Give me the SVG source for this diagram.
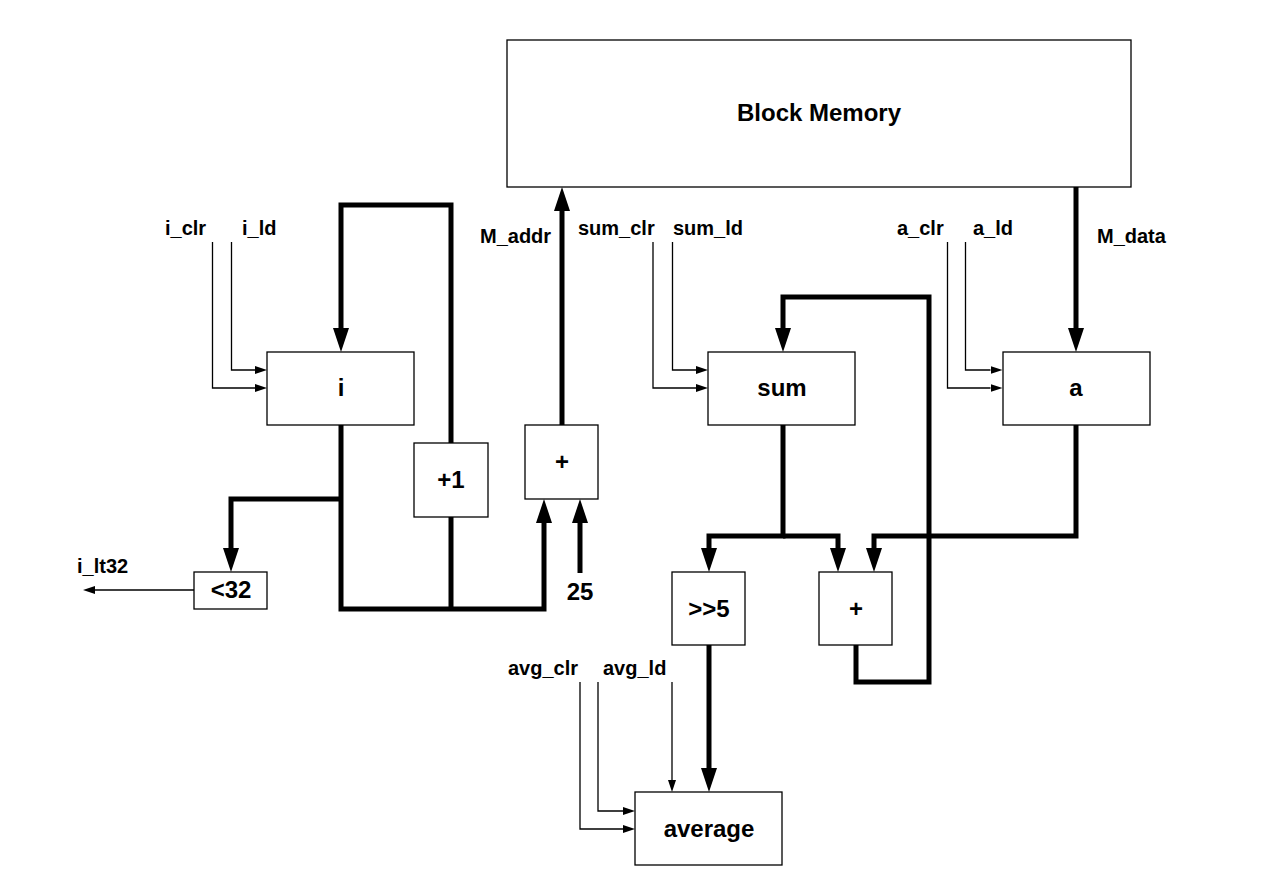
<svg xmlns="http://www.w3.org/2000/svg" width="1267" height="887" viewBox="0 0 1267 887">
<style>
.box{fill:#fff;stroke:#000;stroke-width:1.3}
.lbl{font-family:"Liberation Sans",Arial,sans-serif;font-weight:bold;font-size:20px;fill:#000}
.bl{font-family:"Liberation Sans",Arial,sans-serif;font-weight:bold;font-size:24px;fill:#000;text-anchor:middle}
.thick{fill:none;stroke:#000;stroke-width:5;stroke-linejoin:miter;marker-end:url(#ah)}
.thick.n{marker-end:none}
.thin{fill:none;stroke:#000;stroke-width:1.3;marker-end:url(#as)}
</style>
<defs>
<marker id="ah" markerUnits="userSpaceOnUse" markerWidth="24" markerHeight="16" viewBox="0 0 24 16" refX="0" refY="8" orient="auto"><path d="M0,0 L24,8 L0,16 z" fill="#000"/></marker>
<marker id="as" markerUnits="userSpaceOnUse" markerWidth="12" markerHeight="8" viewBox="0 0 12 8" refX="0" refY="4" orient="auto"><path d="M0,0 L12,4 L0,8 z" fill="#000"/></marker>
</defs>
<rect width="1267" height="887" fill="#fff"/>
<g id="connectors">
<path class="thick" d="M451,443 V205 H341 V328"/>
<path class="thick" d="M341,425 V609 H544 V523"/>
<path class="thick n" d="M451,517 V609"/>
<path class="thick" d="M341,499 H231 V548"/>
<path class="thick" d="M562,425 V211"/>
<path class="thick" d="M580,573 V523"/>
<path class="thick" d="M1076,187 V328"/>
<path class="thick" d="M856,645 V682 H929 V297 H783 V328"/>
<path class="thick" d="M783,425 V536 H709 V548"/>
<path class="thick" d="M783,536 H838 V548"/>
<path class="thick" d="M1076,425 V536 H874 V548"/>
<path class="thick" d="M709,645 V768"/>
<path class="thin" d="M212.5,242 V388 H255"/>
<path class="thin" d="M231.5,242 V370 H255"/>
<path class="thin" d="M653,242 V388 H696"/>
<path class="thin" d="M672.5,242 V370 H696"/>
<path class="thin" d="M947.5,242 V388 H990.5"/>
<path class="thin" d="M965.5,242 V370 H990.5"/>
<path class="thin" d="M580,682 V829 H623"/>
<path class="thin" d="M598,682 V811 H623"/>
<path class="thin" d="M672,682 V780"/>
<path class="thin" d="M194,590 H95"/>
</g>
<g id="mem"><rect class="box" x="507" y="40" width="624" height="147"/><text class="bl" x="819" y="121">Block Memory</text></g>
<g id="reg_i"><rect class="box" x="267" y="352" width="147" height="73"/><text class="bl" x="341" y="396">i</text></g>
<g id="inc"><rect class="box" x="414" y="443" width="74" height="74"/><text class="bl" x="451" y="488">+1</text></g>
<g id="add_addr"><rect class="box" x="525" y="425" width="73" height="74"/><text class="bl" x="562" y="470">+</text></g>
<g id="lt32"><rect class="box" x="194" y="572" width="73" height="37"/><text class="bl" x="231" y="598">&lt;32</text></g>
<g id="reg_sum"><rect class="box" x="708" y="352" width="147" height="73"/><text class="bl" x="782" y="396">sum</text></g>
<g id="reg_a"><rect class="box" x="1003" y="352" width="147" height="73"/><text class="bl" x="1076" y="396">a</text></g>
<g id="shr5"><rect class="box" x="672" y="572" width="73" height="73"/><text class="bl" x="709" y="617">&gt;&gt;5</text></g>
<g id="add_sum"><rect class="box" x="819" y="572" width="73" height="73"/><text class="bl" x="856" y="617">+</text></g>
<g id="reg_avg"><rect class="box" x="635" y="792" width="147" height="73"/><text class="bl" x="709" y="837">average</text></g>
<g id="labels">
<text class="lbl" x="165" y="235">i_clr</text>
<text class="lbl" x="242" y="235">i_ld</text>
<text class="lbl" x="480" y="243">M_addr</text>
<text class="lbl" x="578" y="235">sum_clr</text>
<text class="lbl" x="673" y="235">sum_ld</text>
<text class="lbl" x="897" y="235">a_clr</text>
<text class="lbl" x="973" y="235">a_ld</text>
<text class="lbl" x="1097" y="243">M_data</text>
<text class="lbl" x="77" y="573">i_lt32</text>
<text class="bl" x="580" y="600">25</text>
<text class="lbl" x="508" y="675">avg_clr</text>
<text class="lbl" x="603" y="675">avg_ld</text>
</g>
</svg>
